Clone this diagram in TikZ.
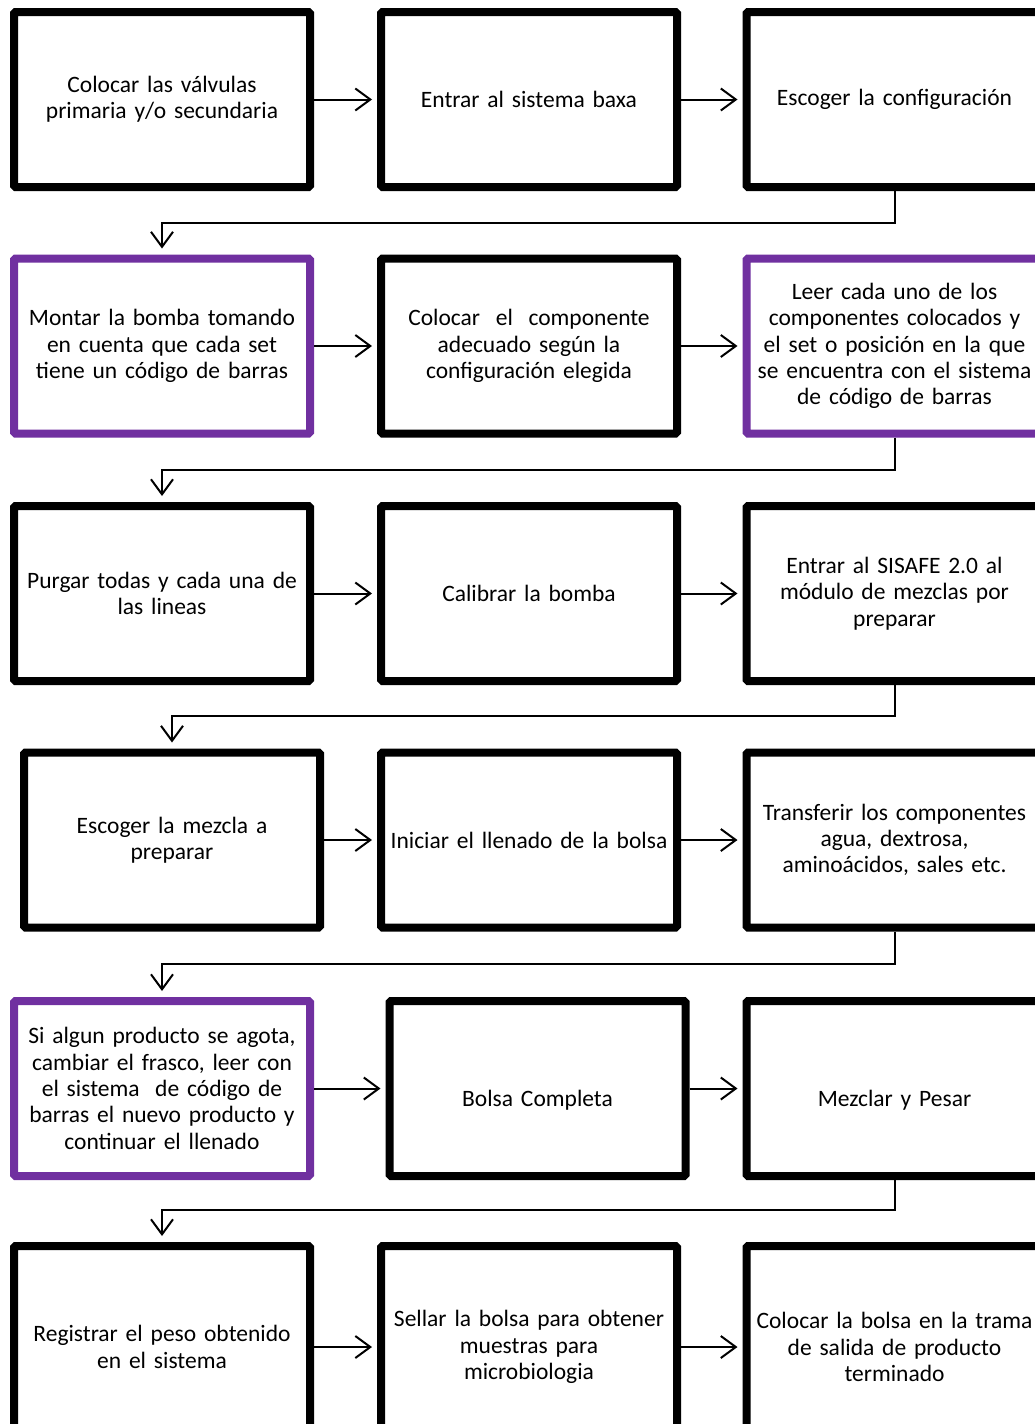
\documentclass[tikz,border=0pt]{standalone}
\usepackage{fontspec}
\setmainfont{Carlito}[WordSpace=0.6]
\usetikzlibrary{arrows.meta,shadows}
\definecolor{boxpurple}{HTML}{7030A0}
\begin{document}
\begin{tikzpicture}[x=1pt,y=-1pt,
  stepbox/.style={draw=black, line width=8pt, fill=white,
    minimum width=296pt, minimum height=175pt, text width=294pt,
    align=center, inner sep=0pt, rounded corners=1.5pt,
    font=\fontsize{23.5}{26.3}\selectfont,
    drop shadow={shadow xshift=2pt, shadow yshift=-3pt, opacity=0.25, fill=black}},
  purplebox/.style={stepbox, draw=boxpurple},
  lastrow/.style={minimum height=202pt},
  arr/.style={line width=2pt, line join=miter,
    -{Straight Barb[length=15pt,width=22pt,line width=2pt]}},
  harr/.style={arr, shorten >=5pt},
  varr/.style={arr, shorten >=6pt}]
\useasboundingbox (0,0) rectangle (1034,1424);
\fill[white] (0,0) rectangle (1034,1424);

% row 1
\node[stepbox] (r1c1) at (162,99.5) {Colocar las válvulas\\primaria y/o secundaria};
\node[stepbox] (r1c2) at (529,99.5) {Entrar al sistema baxa};
\node[stepbox] (r1c3) at (894.5,99.5) {Escoger la configuración};
% row 2
\node[purplebox] (r2c1) at (162,346) {Montar la bomba tomando\\en cuenta que cada set\\tiene un código de barras};
\node[stepbox] (r2c2) at (529,346) {Colocar~ el~ componente\\adecuado según la\\configuración elegida};
\node[purplebox] (r2c3) at (894.5,346) {Leer cada uno de los\\componentes colocados y\\el set o posición en la que\\se encuentra con el sistema\\de código de barras};
% row 3
\node[stepbox] (r3c1) at (162,593.5) {Purgar todas y cada una de\\las lineas};
\node[stepbox] (r3c2) at (529,593.5) {Calibrar la bomba};
\node[stepbox] (r3c3) at (894.5,593.5) {Entrar al SISAFE 2.0 al\\módulo de mezclas por\\preparar};
% row 4
\node[stepbox] (r4c1) at (172,840) {Escoger la mezcla a\\preparar};
\node[stepbox] (r4c2) at (529,840) {Iniciar el llenado de la bolsa};
\node[stepbox] (r4c3) at (894.5,840) {Transferir los componentes\\agua, dextrosa,\\aminoácidos, sales etc.};
% row 5
\node[purplebox] (r5c1) at (162,1088.5) {Si algun producto se agota,\\cambiar el frasco, leer con\\el sistema~ de código de\\barras el nuevo producto y\\continuar el llenado};
\node[stepbox] (r5c2) at (537.5,1088.5) {\rule{0pt}{40pt}Bolsa Completa};
\node[stepbox] (r5c3) at (894.5,1088.5) {\rule{0pt}{40pt}Mezclar y Pesar};
% row 6
\node[stepbox, lastrow] (r6c1) at (162,1347) {Registrar el peso obtenido\\en el sistema};
\node[stepbox, lastrow] (r6c2) at (529,1347) {Sellar la bolsa para obtener\\muestras para\\microbiologia};
\node[stepbox, lastrow] (r6c3) at (894.5,1347) {Colocar la bolsa en la trama\\de salida de producto\\terminado};

% horizontal arrows
\foreach \r in {1,...,6}{
  \draw[harr] (r\r c1) -- (r\r c2);
  \draw[harr] (r\r c2) -- (r\r c3);
}
% return connectors
\draw[varr] (r1c3.south) -- ++(0,32) -| (r2c1.north);
\draw[varr] (r2c3.south) -- ++(0,32) -| (r3c1.north);
\draw[varr] (r3c3.south) -- ++(0,31) -| (r4c1.north);
\draw[varr] (r4c3.south) -- ++(0,32) -| (r5c1.north);
\draw[varr] (r5c3.south) -- ++(0,30) -| (r6c1.north);
\end{tikzpicture}
\end{document}
